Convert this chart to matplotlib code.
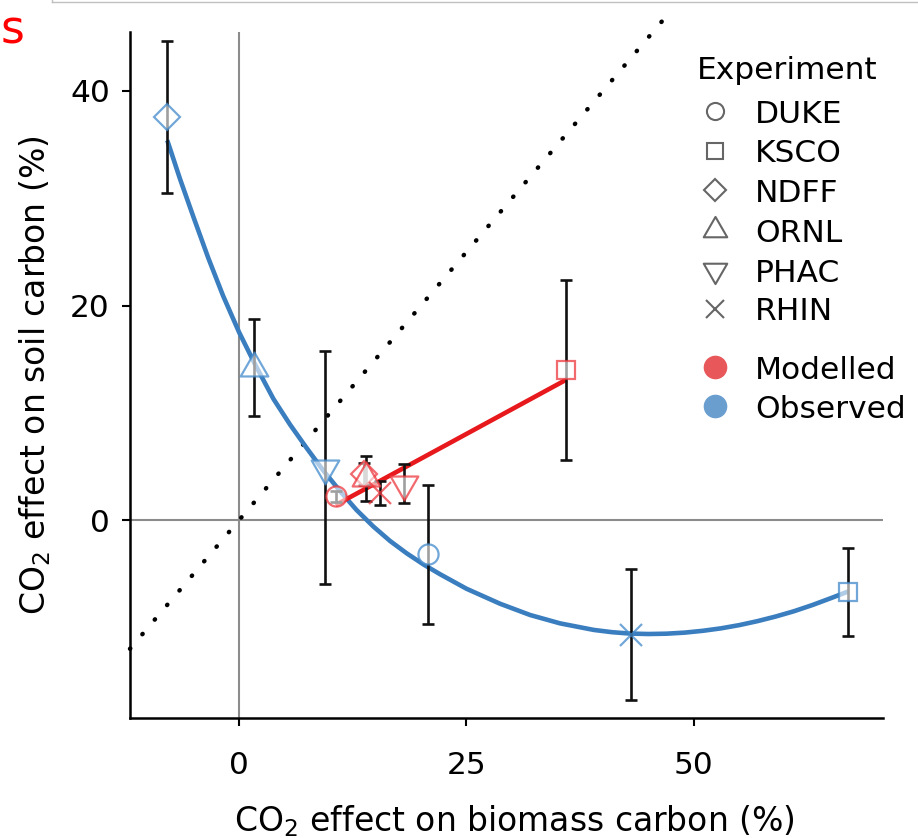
import numpy as np
import matplotlib
matplotlib.use("Agg")
import matplotlib.pyplot as plt
from matplotlib.lines import Line2D
from matplotlib.path import Path

plt.rcParams['font.family'] = ['DejaVu Sans']
plt.rcParams['mathtext.fontset'] = 'dejavusans'
plt.rcParams['mathtext.default'] = 'regular'

# ------------------------------------------------------------------
# Datos
# ------------------------------------------------------------------
experiments = ["DUKE", "KSCO", "NDFF", "ORNL", "PHAC", "RHIN"]

# observados
obs_x   = [20.8, 67.0, -7.9, 1.6, 9.4, 43.1]
obs_y   = [-3.2, -6.7, 37.6, 14.2, 4.9, -10.7]
obs_err = [6.5, 4.1, 7.1, 4.5, 10.9, 6.1]

# modelados
mod_x   = [10.6, 35.9, 13.7, 14.0, 18.1, 15.5]
mod_y   = [2.2, 14.0, 4.3, 3.9, 3.4, 2.5]
mod_err = [0.5, 8.4, 1.0, 2.1, 1.8, 1.1]

# curva ajustada (observados), leida punto a punto
fit_obs_x = [-7.9, -6.5, -5.0, -3.4, -1.76, 0.0, 1.76, 3.77, 5.6, 7.44,
             9.27, 11.1, 12.9, 14.76, 16.6, 18.43, 20.3, 22.1, 25.0, 28.7,
             32.0, 35.3, 39.0, 41.0, 43.0, 45.0, 47.0, 49.0, 51.0, 53.0,
             55.0, 57.0, 59.0, 61.0, 63.0, 65.0, 67.0]
fit_obs_y = [35.4, 31.8, 28.2, 24.45, 20.9, 17.5, 14.5, 11.3, 8.9, 6.7,
             4.6, 2.7, 0.95, -0.6, -1.95, -3.1, -4.15, -5.05, -6.4, -7.8,
             -8.85, -9.63, -10.24, -10.45, -10.58, -10.62, -10.59, -10.49,
             -10.32, -10.09, -9.79, -9.42, -8.99, -8.5, -7.93, -7.3, -6.65]

# recta ajustada (modelados)
fit_mod_x = [10.6, 36.0]
fit_mod_y = [1.4, 13.1]

# linea 1:1
one_x = [-12, 47.2]

# ------------------------------------------------------------------
# Marcadores
# ------------------------------------------------------------------
tri_up = Path([(0, 1.155), (-1, -0.577), (1, -0.577), (0, 1.155)],
              [Path.MOVETO, Path.LINETO, Path.LINETO, Path.CLOSEPOLY])
tri_dn = Path([(0, -1.155), (-1, 0.577), (1, 0.577), (0, -1.155)],
              [Path.MOVETO, Path.LINETO, Path.LINETO, Path.CLOSEPOLY])

markers = {"DUKE": ('o', 14.5), "KSCO": ('s', 13.5), "NDFF": ('D', 13.5),
           "ORNL": (tri_up, 23), "PHAC": (tri_dn, 23), "RHIN": ('x', 16)}

blue_line = '#3a7ebf'
red_line = '#e8191c'
blue_edge = (0.26, 0.54, 0.80, 0.75)
red_edge = (0.93, 0.22, 0.24, 0.75)
face = (1, 1, 1, 0.6)
FS = 22.5
FS_LAB = 23.8

fig = plt.figure(figsize=(9.18, 8.38), dpi=100)
ax = fig.add_axes([130/918, 1 - 718/838, 753/918, 686/838])

ax.axvline(0, color='#8c8c8c', lw=1.5, zorder=1)
ax.axhline(0, color='#8c8c8c', lw=1.5, zorder=1)
ax.plot(one_x, one_x, color='black', lw=3.2, linestyle=(0, (0.1, 4.2)),
        dash_capstyle='round', clip_on=False, zorder=1.5)

ax.plot(fit_obs_x, fit_obs_y, color=blue_line, lw=3.3, zorder=2,
        solid_capstyle='butt', solid_joinstyle='round')
ax.plot(fit_mod_x, fit_mod_y, color=red_line, lw=3.3, zorder=2,
        solid_capstyle='butt')

ax.errorbar(obs_x, obs_y, yerr=obs_err, fmt='none', ecolor='#111111',
            elinewidth=1.9, capsize=4, capthick=1.9, zorder=3)
ax.errorbar(mod_x, mod_y, yerr=mod_err, fmt='none', ecolor='#111111',
            elinewidth=1.9, capsize=4, capthick=1.9, zorder=3)

for i, name in enumerate(experiments):
    m, ms = markers[name]
    for xs, ys, ec in [(mod_x, mod_y, red_edge), (obs_x, obs_y, blue_edge)]:
        ax.plot(xs[i], ys[i], linestyle='none', marker=m, ms=ms,
                mfc=face, mec=ec, mew=1.6, zorder=4)

ax.set_xlim(-12, 70.8)
ax.set_ylim(-18.45, 45.5)
ax.set_xticks([0, 25, 50])
ax.set_yticks([0, 20, 40])
ax.tick_params(labelsize=FS, length=5.5, width=1.5, color='black')
ax.tick_params(axis='x', pad=18)
ax.tick_params(axis='y', pad=9)
for side in ['top', 'right']:
    ax.spines[side].set_visible(False)
for side in ['left', 'bottom']:
    ax.spines[side].set_linewidth(1.8)

ax.set_xlabel("CO$_2$ effect on biomass carbon (%)", fontsize=FS_LAB)
ax.set_ylabel("CO$_2$ effect on soil carbon (%)", fontsize=FS_LAB)
ax.xaxis.set_label_coords(0.51, -0.125)
ax.yaxis.set_label_coords(-0.102, 0.5)

# ------------------------------------------------------------------
# Leyenda (dibujada a mano en coordenadas de figura)
# ------------------------------------------------------------------
def fy(py):
    return 1 - py / 838

gray = '#666666'
mx, tx = 715 / 918, 755 / 918
fig.text(697 / 918, fy(79), "Experiment", fontsize=FS, va='baseline')
rows = [111.5, 151, 190.5, 230, 270, 309]
for name, py in zip(experiments, rows):
    m, ms = markers[name]
    fig.add_artist(Line2D([mx], [fy(py)], transform=fig.transFigure,
                          linestyle='none', marker=m, ms=ms * 0.85,
                          mfc='none', mec=gray, mew=1.5))
    fig.text(tx, fy(py + 11.5), name, fontsize=FS, va='baseline')

for label, col, py in [("Modelled", '#e8575a', 367), ("Observed", '#6a9ecf', 406.5)]:
    fig.add_artist(Line2D([mx], [fy(py)], transform=fig.transFigure,
                          linestyle='none', marker='o', ms=16,
                          mfc=col, mec=col))
    fig.text(tx, fy(py + 11.5), label, fontsize=FS, va='baseline')

# restos del recorte original
fig.text(0.5 / 918, fy(44), "s", color='red', fontsize=33, ha='left',
         va='baseline')
fig.add_artist(Line2D([52/918, 1], [fy(2), fy(2)],
                      transform=fig.transFigure, color='#c0c0c0', lw=1))
fig.add_artist(Line2D([52/918, 52/918], [1, fy(2)],
                      transform=fig.transFigure, color='#c0c0c0', lw=1))

plt.savefig("out.png", dpi=100)
plt.close()
